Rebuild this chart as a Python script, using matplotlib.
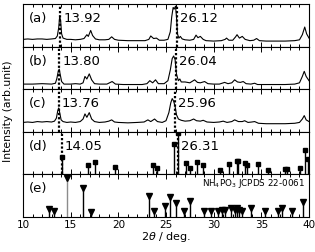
import numpy as np
import matplotlib
matplotlib.use("Agg")
import matplotlib.pyplot as plt
from matplotlib.ticker import MultipleLocator

# measured patterns (2theta in deg, normalised intensity)
a_x = [10.0, 10.5, 11.0, 11.5, 12.0, 12.5, 13.0, 13.4, 13.6, 13.75, 13.85, 13.95, 14.05, 14.2, 14.6,
       15.0, 15.5, 16.0, 16.4, 16.7, 16.85, 17.1, 17.3, 17.6, 18.0, 18.6, 19.0, 19.3, 19.6, 20.0,
       21.0, 22.0, 22.8, 23.2, 23.4, 23.7, 24.0, 24.3, 24.8, 25.2, 25.45, 25.6, 25.75, 25.85, 26.0,
       26.1, 26.2, 26.35, 26.5, 26.7, 27.0, 27.5, 27.9, 28.15, 28.35, 28.6, 28.9, 29.2, 30.0, 30.8,
       31.2, 31.35, 31.6, 32.0, 32.3, 32.45, 32.7, 33.0, 33.3, 33.8, 34.2, 34.5, 34.8, 35.5, 36.5,
       37.5, 38.5, 39.0, 39.3, 39.55, 39.75, 40.0]
a_y = [0.17, 0.18, 0.17, 0.18, 0.18, 0.17, 0.18, 0.19, 0.25, 0.45, 0.72, 0.60, 0.30, 0.20, 0.17,
       0.17, 0.16, 0.17, 0.19, 0.28, 0.24, 0.38, 0.26, 0.18, 0.16, 0.16, 0.17, 0.23, 0.17, 0.15,
       0.14, 0.14, 0.14, 0.17, 0.25, 0.19, 0.20, 0.15, 0.15, 0.17, 0.35, 0.70, 0.92, 0.88, 0.95,
       0.70, 0.30, 0.20, 0.24, 0.18, 0.16, 0.15, 0.17, 0.27, 0.21, 0.24, 0.17, 0.14, 0.13, 0.14,
       0.17, 0.20, 0.15, 0.15, 0.23, 0.28, 0.20, 0.24, 0.17, 0.14, 0.15, 0.19, 0.14, 0.13, 0.13,
       0.13, 0.14, 0.16, 0.28, 0.46, 0.30, 0.20]

b_x = [10.0, 11.0, 12.0, 13.0, 13.4, 13.55, 13.7, 13.8, 13.9, 14.05, 14.3, 15.0, 15.5, 16.0, 16.3,
       16.5, 16.7, 16.95, 17.2, 17.5, 18.0, 18.8, 19.35, 19.7, 20.5, 21.5, 22.5, 23.0, 23.3, 23.6,
       23.9, 24.2, 24.8, 25.2, 25.45, 25.65, 25.8, 25.95, 26.1, 26.3, 26.45, 26.6, 27.0, 27.5, 28.0,
       28.3, 28.6, 29.05, 29.4, 30.0, 30.6, 31.15, 31.5, 31.9, 32.2, 32.5, 32.8, 33.1, 33.4, 33.9,
       34.3, 34.6, 35.5, 36.5, 37.5, 38.5, 39.0, 39.3, 39.5, 39.7, 40.0]
b_y = [0.12, 0.12, 0.13, 0.12, 0.14, 0.25, 0.42, 0.47, 0.35, 0.18, 0.12, 0.12, 0.13, 0.12, 0.15,
       0.30, 0.24, 0.36, 0.22, 0.13, 0.12, 0.12, 0.18, 0.12, 0.11, 0.11, 0.11, 0.13, 0.20, 0.15,
       0.22, 0.13, 0.13, 0.20, 0.45, 0.72, 0.78, 0.70, 0.35, 0.20, 0.24, 0.17, 0.17, 0.15, 0.22,
       0.16, 0.15, 0.18, 0.13, 0.12, 0.12, 0.16, 0.13, 0.15, 0.22, 0.17, 0.16, 0.18, 0.13, 0.12,
       0.14, 0.11, 0.11, 0.11, 0.11, 0.12, 0.15, 0.30, 0.42, 0.30, 0.20]

c_x = [10.0, 10.5, 11.0, 11.5, 12.0, 12.5, 13.0, 13.3, 13.5, 13.65, 13.75, 13.85, 14.0, 14.2, 14.6,
       15.0, 15.5, 16.0, 16.3, 16.5, 16.7, 16.95, 17.2, 17.5, 18.0, 18.6, 19.0, 19.3, 19.6, 20.0,
       21.0, 22.0, 22.7, 23.1, 23.4, 23.8, 24.1, 24.6, 25.0, 25.3, 25.5, 25.65, 25.8, 25.95, 26.1,
       26.3, 26.6, 27.0, 27.5, 27.9, 28.2, 28.6, 28.9, 29.3, 30.0, 30.6, 31.0, 31.4, 31.9, 32.2,
       32.6, 33.0, 33.25, 33.6, 34.0, 34.3, 34.7, 35.5, 36.5, 37.5, 38.5, 39.0, 39.3, 39.5, 39.7,
       40.0]
c_y = [0.22, 0.23, 0.22, 0.24, 0.23, 0.24, 0.23, 0.25, 0.32, 0.50, 0.56, 0.45, 0.28, 0.24, 0.22,
       0.23, 0.22, 0.24, 0.30, 0.42, 0.34, 0.45, 0.30, 0.24, 0.22, 0.23, 0.25, 0.28, 0.23, 0.22,
       0.21, 0.22, 0.23, 0.28, 0.24, 0.30, 0.24, 0.22, 0.26, 0.45, 0.68, 0.78, 0.72, 0.60, 0.40,
       0.30, 0.27, 0.25, 0.26, 0.30, 0.26, 0.25, 0.27, 0.23, 0.22, 0.23, 0.25, 0.22, 0.24, 0.28,
       0.24, 0.24, 0.26, 0.22, 0.23, 0.24, 0.20, 0.19, 0.19, 0.19, 0.20, 0.22, 0.30, 0.38, 0.28,
       0.24]

# calculated pattern (d) and reference card (e)
d_pos = [14.05, 16.85, 17.55, 19.65, 23.65, 24.1, 25.85, 26.31, 27.05, 27.55, 28.3, 28.9, 30.7,
         31.6, 32.4, 32.55, 33.25, 33.5, 34.65, 35.7, 37.45, 37.7, 39.1, 39.6, 39.9]
d_int = [0.40, 0.22, 0.30, 0.18, 0.22, 0.14, 0.72, 0.96, 0.26, 0.14, 0.30, 0.22, 0.10,
         0.24, 0.31, 0.31, 0.26, 0.22, 0.24, 0.10, 0.12, 0.12, 0.14, 0.58, 0.36]

e_pos = [12.75, 13.28, 14.65, 16.25, 17.12, 23.2, 23.7, 24.87, 25.4, 26.1, 26.85, 27.5, 28.98,
         29.75, 30.5, 30.9, 31.15, 31.8, 32.2, 32.48, 32.7, 32.96, 33.95, 35.35, 36.7, 37.15,
         38.25, 39.35]
e_int = [0.19, 0.14, 0.92, 0.67, 0.12, 0.50, 0.14, 0.25, 0.46, 0.32, 0.15, 0.38, 0.15,
         0.14, 0.15, 0.17, 0.17, 0.22, 0.17, 0.20, 0.17, 0.14, 0.22, 0.15, 0.15, 0.21,
         0.15, 0.36]

labels = ["(a)", "(b)", "(c)", "(d)", "(e)"]
peaks = [(13.92, 26.12), (13.80, 26.04), (13.76, 25.96), (14.05, 26.31)]


def style_axis(ax, last):
    ax.set_xlim(10, 40)
    ax.set_ylim(0, 1)
    ax.set_yticks([])
    ax.xaxis.set_major_locator(MultipleLocator(5))
    ax.xaxis.set_minor_locator(MultipleLocator(1))
    ax.tick_params(axis="x", which="both", direction="in", top=True, bottom=True,
                   labelbottom=last, labelsize=7.5, pad=2, width=0.7)
    ax.tick_params(axis="x", which="major", length=3.5)
    ax.tick_params(axis="x", which="minor", length=2)
    for s in ax.spines.values():
        s.set_linewidth(0.8)


def mark_peaks(ax, pos):
    for p in pos:
        ax.axvline(p, color="k", lw=1.6, ls=(0, (1, 0.9)), zorder=1)
        ax.text(p + 0.3, 0.66, "%.2f" % p, fontsize=9.5, va="center", ha="left")


fig, axes = plt.subplots(5, 1, figsize=(3.15, 2.52), dpi=100, sharex=True)
fig.subplots_adjust(left=0.073, right=0.981, top=0.984, bottom=0.139, hspace=0)

for ax, xs, ys in zip(axes[:3], [a_x, b_x, c_x], [a_y, b_y, c_y]):
    ax.plot(xs, ys, color="k", lw=0.8, zorder=2)

ax = axes[3]
ax.vlines(d_pos, 0, d_int, color="k", lw=1.0)
ax.plot(d_pos, d_int, "s", color="k", ms=3.2)

ax = axes[4]
e_cols = ["0.55" if p == 14.65 else "k" for p in e_pos]
ax.vlines(e_pos, 0, e_int, colors=e_cols, lw=1.0)
ax.plot(e_pos, e_int, "v", color="k", ms=4)
ax.text(0.985, 0.94, r"NH$_4$PO$_3$ JCPDS 22-0061", transform=ax.transAxes,
        fontsize=6.3, ha="right", va="top")

for i, ax in enumerate(axes):
    style_axis(ax, i == 4)
    ax.text(0.02, 0.66, labels[i], transform=ax.transAxes, fontsize=9.5,
            va="center", ha="left")
    if i < 4:
        mark_peaks(ax, peaks[i])

axes[4].set_xlabel(r"2$\theta$ / deg.", fontsize=8, labelpad=0)
fig.text(0.025, 0.56, "Intensity (arb.unit)", rotation=90, fontsize=7.8,
         va="center", ha="center")

plt.savefig("out.png", dpi=100)
